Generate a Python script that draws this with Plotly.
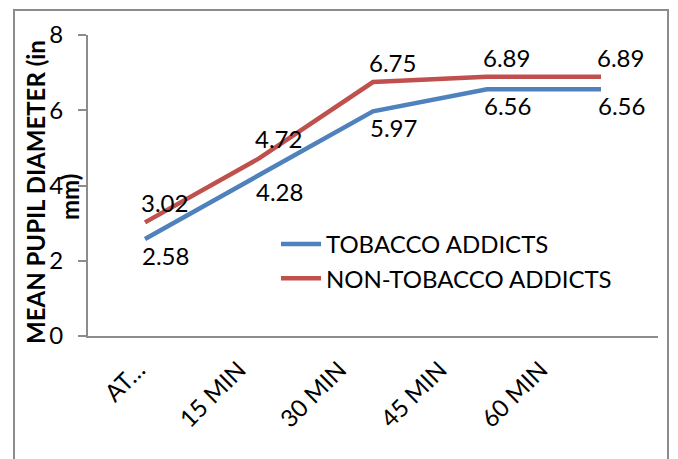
import plotly.graph_objects as go

# Time points (first label is truncated on the axis)
categories = ["AT…", "15 MIN", "30 MIN", "45 MIN", "60 MIN"]
tobacco = [2.58, 4.28, 5.97, 6.56, 6.56]
non_tobacco = [3.02, 4.72, 6.75, 6.89, 6.89]
y_ticks = [0, 2, 4, 6, 8]

BLUE = "#4F81BD"
RED = "#C0504D"
GRAY = "#8C8C8C"
FONT = "Lato"
FS = 24

W, H = 678, 459
L, R, T, B = 88, 20, 35, 123
pw, ph = W - L - R, H - T - B


def px_x(x):
    return (x - L) / pw


def px_y(y):
    return (H - B - y) / ph


fig = go.Figure()
fig.add_trace(go.Scatter(x=categories, y=tobacco, mode="lines", name="TOBACCO ADDICTS",
                         line=dict(color=BLUE, width=4.5)))
fig.add_trace(go.Scatter(x=categories, y=non_tobacco, mode="lines", name="NON-TOBACCO ADDICTS",
                         line=dict(color=RED, width=4.5)))
# Carrier trace for the category label axis (draws nothing)
fig.add_trace(go.Scatter(x=categories, y=tobacco, xaxis="x2", mode="lines", opacity=0,
                         showlegend=False, hoverinfo="skip", line=dict(width=0)))

annotations = []
for c, v in zip(categories, tobacco):
    annotations.append(dict(x=c, y=v, text=f"{v:.2f}", showarrow=False, xanchor="left",
                            yanchor="top", xshift=-5, yshift=0,
                            font=dict(family=FONT, size=FS, color="black")))
for c, v in zip(categories, non_tobacco):
    annotations.append(dict(x=c, y=v, text=f"{v:.2f}", showarrow=False, xanchor="left",
                            yanchor="bottom", xshift=-6, yshift=3,
                            font=dict(family=FONT, size=FS, color="black")))

# Y-axis title, wrapped over two lines
annotations.append(dict(xref="paper", yref="paper", x=px_x(35), y=px_y(192), text="<b>MEAN PUPIL DIAMETER (in</b>",
                        showarrow=False, textangle=-90, xanchor="center", yanchor="middle",
                        font=dict(family=FONT, size=24, color="black")))
annotations.append(dict(xref="paper", yref="paper", x=px_x(69), y=px_y(197), text="<b>mm)</b>",
                        showarrow=False, textangle=-90, xanchor="center", yanchor="middle",
                        font=dict(family=FONT, size=24, color="black")))

fig.update_layout(
    width=W, height=H,
    margin=dict(l=L, r=R, t=T, b=B),
    paper_bgcolor="white", plot_bgcolor="rgba(0,0,0,0)",
    font=dict(family=FONT, size=FS, color="black"),
    annotations=annotations,
    showlegend=True,
    legend=dict(x=px_x(276), y=px_y(222), xanchor="left", yanchor="top",
                bgcolor="rgba(0,0,0,0)", font=dict(family=FONT, size=FS, color="black"),
                tracegroupgap=0, itemwidth=40),
    xaxis=dict(type="category", showgrid=False, showline=True, linecolor=GRAY, linewidth=2,
               ticks="", showticklabels=False, range=[-0.5, 4.5]),
    xaxis2=dict(type="category", anchor="y", side="bottom",
                domain=[0, 503 / pw], range=[-0.5, 4.5], showgrid=False, showline=False,
                ticks="", tickangle=-45, ticklabelstandoff=14,
                tickfont=dict(family=FONT, size=FS, color="black")),
    yaxis=dict(range=[0, 8], tickvals=y_ticks, showgrid=False, showline=True, linecolor=GRAY,
               linewidth=2, ticks="outside", ticklen=8, tickcolor=GRAY, tickwidth=2,
               ticklabelstandoff=10,
               tickfont=dict(family=FONT, size=24, color="black"), zeroline=False),
    shapes=[dict(type="rect", xref="paper", yref="paper",
                 x0=px_x(14), x1=px_x(668), y0=px_y(475), y1=px_y(10),
                 line=dict(color=GRAY, width=2), fillcolor="rgba(0,0,0,0)", layer="below")],
)

fig.write_html("out.html")
